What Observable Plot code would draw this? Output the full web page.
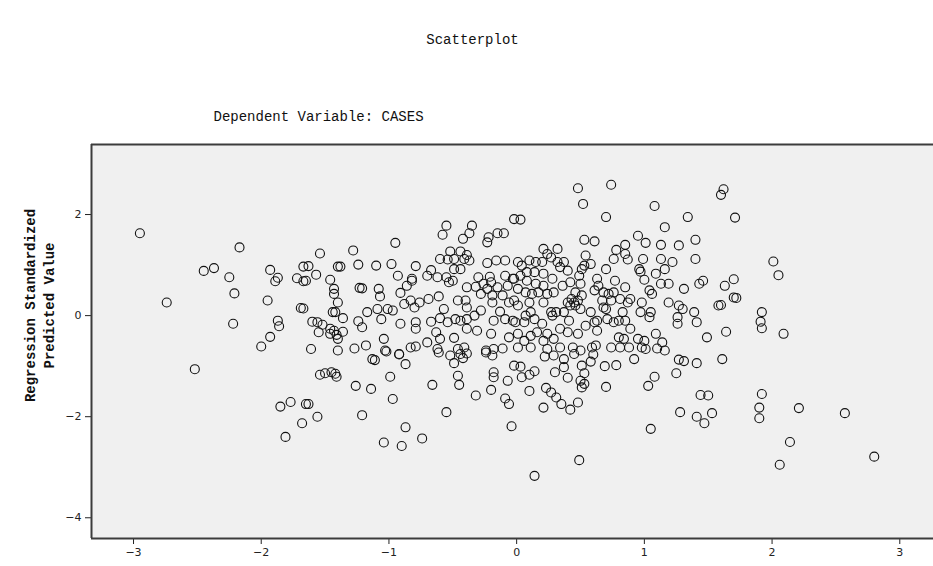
<!DOCTYPE html>
<html>
<head>
<meta charset="utf-8">
<script src="https://cdn.jsdelivr.net/npm/d3@7"></script>
<script src="https://cdn.jsdelivr.net/npm/@observablehq/plot@0.6"></script>
<style>
  html, body { margin: 0; padding: 0; background: #ffffff; }
  #chart svg { display: block; }
</style>
</head>
<body>
<div id="chart"></div>
<script>
const titleText = "Scatterplot";
const subtitleText = "Dependent Variable: CASES";
const yLabelText = "Regression Standardized\nPredicted Value";
const xTicks = [-3, -2, -1, 0, 1, 2, 3];
const yTicks = [-4, -2, 0, 2];

// Standardized residual-like x values (horizontal) and standardized predicted values (vertical)
const xVals = [
-2.95,-2.17,-2.45,-2.37,-2.25,-1.93,-1.87,-1.89,-1.72,-1.67,-1.67,-2.21,-2.74,-1.95,-1.69,-2.22,-1.87,-1.86,-1.93,-2.00,
-2.52,-1.85,-1.77,-1.65,-1.68,-1.81,
1.62,1.60,1.71,2.01,2.05,1.70,1.63,1.70,1.72,1.60,1.92,1.91,1.92,2.09,1.64,
1.61,1.92,1.90,1.90,2.21,2.57,2.14,2.06,2.80,
0.49,0.14,1.05,1.28,1.41,1.47,1.53,1.44,1.50,1.25,1.08,1.03,1.41,1.27,1.31,0.92,0.70,0.78,0.69,0.58,0.60,0.51,0.53,0.50,0.53,0.51,0.48,0.42,0.35,0.31,0.27,0.23,0.21,0.10,0.40,0.30,0.37,0.37,0.29,0.22,0.45,0.14,0.10,0.03,0.04,
-1.04,-0.90,-0.74,-0.87,-1.21,-0.55,-0.97,-1.14,-1.26,-0.99,-0.87,-0.92,-1.02,-1.13,-1.11,-1.54,-1.50,-1.45,-1.42,-1.41,-1.63,-1.56,-0.66,-0.45,-0.46,-0.32,-0.49,-0.42,-0.39,-0.44,-0.52,-0.61,-0.18,-0.18,-0.20,-0.07,-0.09,-0.06,-0.04,-0.19,-0.24,-0.02,
-0.55,-0.35,-0.58,-0.42,-0.37,-0.23,-0.22,-0.15,-0.10,-0.02,-0.95,-1.54,-1.28,-1.63,-1.40,-1.38,-1.24,-1.10,-0.98,-0.79,-1.57,-1.65,-1.46,-0.93,-0.67,-0.70,-0.82,-0.62,-0.55,-0.53,-0.50,
-0.52,-0.44,-0.39,-0.54,-0.49,-0.41,-0.37,-0.49,-0.44,-0.60,-0.23,-0.16,-0.09,-0.09,-0.03,-0.30,-0.21,-0.20,-0.26,-0.39,-0.32,-0.23,-0.15,-0.07,
-1.43,-1.43,-1.40,-1.23,-1.21,-1.08,-1.07,-0.91,-0.86,-0.82,-0.69,-0.61,-1.67,-1.44,-1.42,-1.36,-1.60,-1.56,-1.52,-1.46,-1.43,-1.41,-1.36,-1.46,-1.55,-1.40,-1.24,-1.21,
-1.17,-1.09,-1.06,-1.01,-0.97,-0.88,-0.83,-0.80,-0.76,-0.91,-0.79,-0.79,-0.67,-0.60,-0.54,-0.57,-0.46,-0.40,-0.39,-0.48,-0.44,-0.39,-0.33,-0.28,-0.39,-0.31,
-0.28,-0.19,-0.11,-0.19,-0.13,-0.06,-0.18,-0.09,-0.03,-0.20,-0.06,-0.63,-0.60,-0.49,-0.41,-0.46,-0.70,-0.62,-1.04,-1.61,-1.40,-1.27,-1.18,-1.03,-0.92,-0.83,-0.79,-0.24,-0.18,-0.11,
0.48,0.74,0.52,0.70,1.08,1.34,0.03,1.16,0.95,1.01,1.13,1.27,1.40,1.40,1.22,1.13,0.53,0.61,0.85,0.78,0.85,0.87,0.76,0.70,0.99,0.96,0.97,1.09,1.16,1.00,1.13,1.19,1.31,1.43,1.46,
1.04,1.06,1.19,1.27,1.30,1.39,1.26,1.26,1.41,1.49,1.58,0.98,1.05,0.97,1.04,0.87,0.83,0.85,0.80,0.89,0.84,0.80,1.09,1.14,0.95,1.00,0.98,1.01,1.10,1.16,0.74,0.81,0.88,
0.77,0.85,0.76,0.68,0.72,0.67,0.74,0.68,0.63,0.64,0.61,0.54,0.53,0.58,0.51,0.49,0.50,0.46,0.51,0.70,0.61,0.63,0.62,0.59,
0.43,0.45,0.46,0.42,0.48,0.40,0.50,0.37,0.31,0.28,0.41,
0.21,0.32,0.24,0.27,0.20,0.32,0.37,0.34,0.40,0.01,0.04,0.10,0.15,0.08,0.14,0.03,
0.21,0.28,0.21,0.36,0.42,0.15,0.08,-0.02,0.01,0.07,0.12,0.24,0.29,0.17,
-0.02,0.01,0.10,0.11,0.07,0.14,0.06,-0.01,
0.21,0.27,0.20,0.16,0.24,0.29,0.21,0.11,0.06,0.01,
0.34,0.40,0.48,0.54,0.58,0.63,0.01,0.11,0.24,0.34,0.44,0.50,0.81,0.89,0.71,0.76
];
const yVals = [
1.63,1.35,0.885,0.94,0.76,0.905,0.75,0.68,0.74,0.97,0.68,0.44,0.26,0.30,0.15,-0.16,-0.10,-0.21,-0.42,-0.61,
-1.06,-1.80,-1.71,-1.75,-2.13,-2.40,
2.50,2.39,1.94,1.07,0.80,0.72,0.59,0.36,0.35,0.21,0.07,-0.12,-0.25,-0.36,-0.32,
-0.86,-1.55,-1.82,-2.03,-1.83,-1.93,-2.50,-2.95,-2.79,
-2.86,-3.17,-2.24,-1.91,-2.00,-2.13,-1.93,-1.57,-1.58,-1.14,-1.21,-1.39,-0.94,-0.87,-0.90,-0.86,-1.41,-0.98,-1.00,-0.91,-0.77,-0.99,-1.14,-1.29,-1.35,-1.42,-1.72,-1.86,-1.75,-1.62,-1.52,-1.43,-1.82,-1.49,-1.23,-1.12,-1.02,-0.86,-0.79,-0.81,-0.76,-1.10,-1.17,-1.01,-1.22,
-2.51,-2.58,-2.43,-2.21,-1.97,-1.91,-1.65,-1.45,-1.39,-1.21,-0.96,-0.77,-0.71,-0.86,-0.88,-1.17,-1.14,-1.12,-1.15,-1.21,-1.75,-2.00,-1.37,-1.37,-1.19,-1.58,-0.94,-0.84,-0.75,-0.76,-0.79,-0.73,-1.12,-1.22,-1.47,-1.29,-1.64,-1.75,-2.19,-0.79,-0.73,-0.99,
1.78,1.78,1.60,1.52,1.63,1.45,1.55,1.63,1.63,1.91,1.44,1.23,1.29,0.98,0.97,0.97,1.01,0.99,1.02,0.98,0.81,0.69,0.71,0.79,0.90,0.79,0.73,0.76,0.76,0.66,0.69,
1.27,1.27,1.20,1.11,1.12,1.12,1.09,0.92,0.92,1.12,1.04,1.09,1.09,0.79,0.73,0.76,0.77,0.66,0.63,0.56,0.57,0.53,0.56,0.59,
0.53,0.43,0.26,0.55,0.54,0.53,0.38,0.45,0.59,0.69,0.33,0.38,0.14,0.07,0.07,-0.05,-0.12,-0.13,-0.18,-0.26,-0.30,-0.38,-0.32,-0.36,-0.33,-0.46,-0.11,-0.23,
0.07,0.13,-0.07,0.13,0.10,0.23,0.30,0.16,0.26,-0.16,-0.13,-0.26,-0.12,-0.05,-0.13,0.13,0.30,0.30,0.16,-0.07,-0.10,-0.07,0.00,0.10,-0.26,-0.30,
0.43,0.40,0.40,0.26,0.08,0.26,-0.10,-0.07,-0.10,-0.36,-0.43,-0.33,-0.46,-0.44,-0.63,-0.66,-0.53,-0.66,-0.46,-0.66,-0.69,-0.65,-0.59,-0.69,-0.76,-0.63,-0.61,-0.69,-0.66,-0.65,
2.52,2.59,2.21,1.95,2.17,1.95,1.90,1.75,1.58,1.44,1.40,1.39,1.50,1.12,1.06,1.12,1.50,1.47,1.40,1.30,1.22,1.11,1.12,0.92,1.12,0.92,0.87,0.83,0.92,0.71,0.63,0.63,0.53,0.63,0.69,
0.50,0.43,0.26,0.20,0.13,0.07,-0.03,-0.16,-0.13,-0.43,0.20,0.26,0.07,0.07,-0.03,0.26,0.07,-0.10,-0.10,-0.26,-0.46,-0.43,-0.36,-0.53,-0.46,-0.50,-0.63,-0.66,-0.65,-0.69,-0.63,-0.63,-0.63,
0.69,0.56,0.46,0.46,0.43,0.30,0.30,0.16,0.73,0.59,0.50,1.19,0.99,1.02,0.92,0.79,0.63,0.46,0.40,0.13,-0.13,-0.30,-0.59,-0.63,
0.33,0.26,0.20,0.20,0.30,0.26,0.13,0.07,0.07,0.00,-0.10,
1.32,1.32,1.22,1.15,1.06,1.06,1.06,0.96,0.89,1.06,0.99,1.09,1.06,0.86,0.86,0.79,
0.83,0.73,0.59,0.59,0.66,0.63,0.69,0.73,0.53,0.46,0.43,0.43,0.46,0.46,
0.30,0.20,0.26,0.07,0.00,-0.07,-0.13,-0.13,
0.26,0.07,-0.16,-0.33,-0.36,-0.46,-0.50,-0.40,-0.50,-0.36,
-0.26,-0.33,-0.36,-0.20,0.07,-0.10,-0.63,-0.63,-0.66,-0.63,-0.63,-0.69,0.33,0.33,-0.07,-0.13
];

const n = Math.min(xVals.length, yVals.length);
const points = d3.range(n).map(i => ({x: xVals[i], y: yVals[i]}));

const xDomain = [-3.329, 3.264];
const yDomain = [-4.41, 3.386];

const chart = Plot.plot({
  width: 933,
  height: 566,
  marginTop: 144,
  marginLeft: 91,
  marginRight: 0,
  marginBottom: 28,
  style: {background: "#ffffff", fontFamily: "DejaVu Sans, sans-serif", fontSize: "11px", color: "#222"},
  x: {domain: xDomain, ticks: xTicks, tickSize: 6, tickPadding: 4, label: null, tickFormat: d => String(d).replace("-", "\u2212")},
  y: {domain: yDomain, ticks: yTicks, tickSize: 6, tickPadding: 4, label: null, tickFormat: d => String(d).replace("-", "\u2212")},
  marks: [
    Plot.frame({fill: "#f0f0f0", stroke: null}),
    Plot.ruleX([xDomain[0]], {stroke: "#3c3c3c", strokeWidth: 2}),
    Plot.ruleY([yDomain[0]], {stroke: "#3c3c3c", strokeWidth: 2}),
    Plot.ruleY([yDomain[1]], {stroke: "#3c3c3c", strokeWidth: 2}),
    Plot.dot(points, {x: "x", y: "y", r: 4.5, stroke: "#111", strokeWidth: 1.1, fill: "none"}),
    Plot.text([titleText], {frameAnchor: "top", dx: -40, dy: -110, fontFamily: "Liberation Mono, monospace", fontSize: 14, fill: "#111"}),
    Plot.text([subtitleText], {frameAnchor: "top-left", textAnchor: "start", dx: 122, dy: -33, fontFamily: "Liberation Mono, monospace", fontSize: 14, fill: "#111"}),
    Plot.text([yLabelText], {frameAnchor: "left", textAnchor: "middle", rotate: -90, dx: -53, dy: -36, lineHeight: 1.35, fontFamily: "Liberation Mono, monospace", fontWeight: "bold", fontSize: 14, fill: "#111"})
  ]
});
document.getElementById("chart").appendChild(chart);
</script>
</body>
</html>
